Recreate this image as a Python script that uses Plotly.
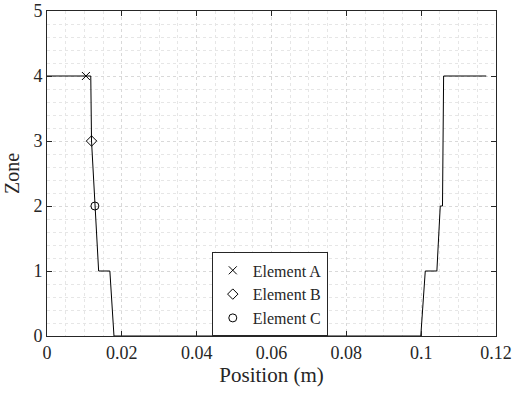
import plotly.graph_objects as go

# Profile data
pos = [0, 0.0117, 0.0119, 0.0128, 0.0138, 0.0168, 0.0179, 0.0999, 0.1011, 0.1042, 0.1051, 0.1057, 0.1060, 0.1174]
zone = [4, 4, 3, 2, 1, 1, 0, 0, 1, 1, 2, 2, 4, 4]

elem_names = ["Element A", "Element B", "Element C"]
elem_x = [0.0104, 0.0119, 0.0128]
elem_y = [4, 3, 2]
elem_symbols = ["x-thin-open", "diamond-open", "circle-open"]

x_ticks = [0, 0.02, 0.04, 0.06, 0.08, 0.1, 0.12]
x_labels = ["0", "0.02", "0.04", "0.06", "0.08", "0.1", "0.12"]
y_ticks = [0, 1, 2, 3, 4, 5]

font = "Liberation Serif, Times New Roman, serif"
axc = "#262626"

fig = go.Figure()
fig.add_trace(go.Scatter(x=pos, y=zone, mode="lines",
                         line=dict(color="black", width=1), showlegend=False,
                         hoverinfo="skip"))
for n, xx, yy, s in zip(elem_names, elem_x, elem_y, elem_symbols):
    fig.add_trace(go.Scatter(x=[xx], y=[yy], mode="markers", name=n,
                             marker=dict(symbol=s, size=8, color="black",
                                         line=dict(color="black", width=1))))

grid_common = dict(showline=True, linecolor=axc, linewidth=1, mirror="ticks",
                   ticks="inside", ticklen=5, tickcolor=axc, automargin=False,
                   ticklabeloverflow="allow",
                   showgrid=True, gridcolor="#d9d9d9", griddash="dot", gridwidth=1,
                   zeroline=False, tickfont=dict(family=font, size=18, color=axc))

fig.update_xaxes(range=[0, 0.12], tickvals=x_ticks, ticktext=x_labels,
                 title=dict(text="Position (m)", font=dict(family=font, size=21, color=axc), standoff=2),
                 minor=dict(dtick=0.005, showgrid=True, gridcolor="#e6e6e6", griddash="dot", ticks=""),
                 **grid_common)
fig.update_yaxes(range=[0, 5], tickvals=y_ticks,
                 title=dict(text="Zone", font=dict(family=font, size=20, color=axc), standoff=8),
                 minor=dict(dtick=0.2, showgrid=True, gridcolor="#e6e6e6", griddash="dot", ticks=""),
                 **grid_common)

fig.update_layout(width=512, height=394, margin=dict(l=47, r=16, t=11, b=58),
                  plot_bgcolor="white", paper_bgcolor="white",
                  legend=dict(x=0.367, y=0.128, xanchor="left", yanchor="middle",
                              bordercolor=axc, borderwidth=1, bgcolor="white",
                              font=dict(family=font, size=16, color=axc),
                              tracegroupgap=0, itemwidth=30))

fig.write_html("out.html", config={"displayModeBar": False},
               post_script="document.body.style.margin='0';")
